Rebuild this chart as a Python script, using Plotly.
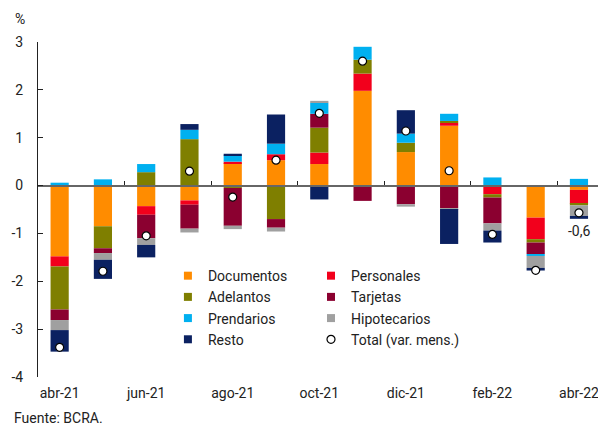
import plotly.graph_objects as go

months = ["abr-21", "may-21", "jun-21", "jul-21", "ago-21", "sep-21", "oct-21",
          "nov-21", "dic-21", "ene-22", "feb-22", "mar-22", "abr-22"]
tick_labels = ["abr-21", "jun-21", "ago-21", "oct-21", "dic-21", "feb-22", "abr-22"]

documentos   = [-1.48, -0.85, -0.43, -0.31, 0.47, 0.53, 0.45, 1.98, 0.70, 1.25, 0.00, -0.67, -0.09]
personales   = [-0.21, 0.00, -0.18, -0.09, 0.03, 0.125, 0.24, 0.36, 0.00, 0.06, -0.18, -0.45, -0.29]
adelantos    = [-0.90, -0.46, 0.28, 0.97, -0.05, -0.70, 0.52, 0.29, 0.195, 0.04, -0.07, -0.07, -0.035]
tarjetas     = [-0.22, -0.10, -0.49, -0.50, -0.79, -0.18, 0.29, -0.32, -0.39, -0.47, -0.54, -0.24, 0.00]
prendarios   = [0.06, 0.13, 0.17, 0.195, 0.13, 0.22, 0.23, 0.27, 0.19, 0.15, 0.17, -0.04, 0.14]
hipotecarios = [-0.21, -0.14, -0.14, -0.08, -0.07, -0.08, 0.04, 0.00, -0.05, -0.02, -0.15, -0.25, -0.22]
resto        = [-0.45, -0.40, -0.26, 0.12, 0.035, 0.61, -0.29, 0.00, 0.49, -0.73, -0.25, -0.055, -0.06]
total        = [-3.38, -1.79, -1.05, 0.30, -0.24, 0.53, 1.51, 2.60, 1.14, 0.31, -1.02, -1.77, -0.57]

y_ticks = [-4, -3, -2, -1, 0, 1, 2, 3]

series = [
    ("Documentos", documentos, "#FF8C00", "legend"),
    ("Personales", personales, "#F2001C", "legend2"),
    ("Adelantos", adelantos, "#7F7F00", "legend"),
    ("Tarjetas", tarjetas, "#8B0030", "legend2"),
    ("Prendarios", prendarios, "#00B0F0", "legend"),
    ("Hipotecarios", hipotecarios, "#A0A0A0", "legend2"),
    ("Resto", resto, "#0B2161", "legend"),
]

FONT = "Roboto"
x_idx = list(range(len(months)))

fig = go.Figure()
for name, vals, color, lg in series:
    fig.add_trace(go.Bar(
        x=x_idx, y=vals, name=name, marker=dict(color=color, line=dict(width=0)),
        width=0.42, showlegend=False, hovertext=months,
    ))
# legend entries (small squares)
for name, vals, color, lg in series:
    fig.add_trace(go.Scatter(
        x=[None], y=[None], mode="markers", name=name, legend=lg,
        marker=dict(symbol="square", size=8, color=color),
    ))

fig.add_trace(go.Scatter(
    x=x_idx, y=total, mode="markers", name="Total (var. mens.)", legend="legend2",
    marker=dict(symbol="circle", size=8, color="white", line=dict(color="black", width=1.2)),
))

# invisible trace to host the zero-line axis
fig.add_trace(go.Scatter(x=[0], y=[0], xaxis="x2", mode="markers",
                         marker=dict(opacity=0), showlegend=False, hoverinfo="skip"))

last_lbl = f"{total[-1]:.1f}".replace(".", ",")
fig.add_annotation(x=x_idx[-1], y=total[-1], text=last_lbl, showarrow=False,
                   yshift=-18, font=dict(family=FONT, size=14, color="#222"))

x_range = [-0.5, 12.44]
fig.update_layout(
    template="none",
    width=598, height=425,
    margin=dict(l=38, r=0, t=42, b=48, autoexpand=False),
    paper_bgcolor="white", plot_bgcolor="white",
    barmode="relative",
    font=dict(family=FONT, size=14, color="#222"),
    xaxis=dict(range=x_range, tickmode="array", tickvals=[0, 2, 4, 6, 8, 10, 12],
               ticktext=tick_labels, ticks="", showline=False, showgrid=False,
               zeroline=False, tickfont=dict(size=14, color="#222"), ticklabelstandoff=6,
               automargin=False, ticklabeloverflow="allow"),
    xaxis2=dict(range=x_range, overlaying="x", anchor="free", position=4 / 7, side="bottom",
                showline=True, linecolor="#666", linewidth=1.5, ticks="inside", ticklen=4,
                tickcolor="#222", tickwidth=1, tickmode="array",
                tickvals=[1.5, 3.5, 5.5, 7.5, 9.5, 11.5], showticklabels=False,
                showgrid=False, zeroline=False, automargin=False),
    yaxis=dict(range=[-4, 3], tickmode="array", tickvals=y_ticks,
               ticktext=[str(v) for v in y_ticks], showline=True, linecolor="#222",
               linewidth=1, ticks="inside", ticklen=5, tickcolor="#222",
               showgrid=False, zeroline=False, tickfont=dict(size=14, color="#222"),
               ticklabelstandoff=11, automargin=False),
    legend=dict(x=0.232, y=0.349, xanchor="left", yanchor="top", bgcolor="rgba(0,0,0,0)",
                font=dict(size=14, color="#222"), itemwidth=30, tracegroupgap=0),
    legend2=dict(x=0.4875, y=0.349, xanchor="left", yanchor="top", bgcolor="rgba(0,0,0,0)",
                 font=dict(size=14, color="#222"), itemwidth=30, tracegroupgap=0),
    showlegend=True,
)
fig.add_annotation(xref="paper", yref="paper", x=-0.044, y=1.069, xanchor="left",
                   yanchor="middle", text="%", showarrow=False, font=dict(size=14, color="#222"))
fig.add_annotation(xref="paper", yref="paper", x=-0.046, y=-0.123, xanchor="left",
                   yanchor="middle", text="Fuente: BCRA.", showarrow=False,
                   font=dict(size=14, color="#222"))

fig.write_html("out.html", config={"displayModeBar": False},
               post_script="document.body.style.margin='0';document.body.style.overflow='hidden';")
